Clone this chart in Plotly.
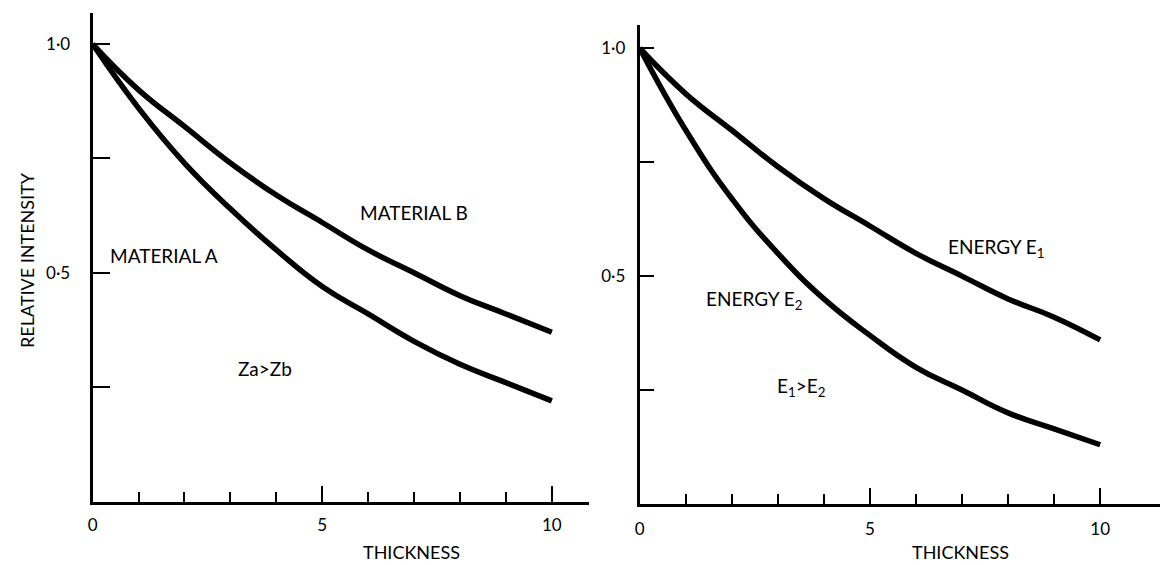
import plotly.graph_objects as go

# ---- data ----
thickness = [0, 1, 2, 3, 4, 5, 6, 7, 8, 9, 10]
material_a = [1.00, 0.86, 0.74, 0.64, 0.55, 0.47, 0.41, 0.35, 0.30, 0.26, 0.22]
material_b = [1.00, 0.90, 0.82, 0.74, 0.67, 0.61, 0.55, 0.50, 0.45, 0.41, 0.37]
energy_e1 = [1.00, 0.90, 0.82, 0.74, 0.67, 0.61, 0.55, 0.50, 0.45, 0.41, 0.36]
energy_e2 = [1.00, 0.82, 0.67, 0.55, 0.45, 0.37, 0.30, 0.25, 0.20, 0.165, 0.13]

x_tick_vals = [0, 5, 10]
x_tick_text = ["0", "5", "10"]
x_minor_vals = [1, 2, 3, 4, 6, 7, 8, 9]
y_tick_vals = [0.5, 1.0]
y_tick_text = ["0·5", "1·0"]
y_minor_vals = [0.25, 0.75]

FONT = "Lato"
W, H = 1162, 565

fig = go.Figure()
line = dict(color="black", width=5.5, shape="spline", smoothing=1.3)
fig.add_trace(go.Scatter(x=thickness, y=material_a, mode="lines", line=line, xaxis="x", yaxis="y"))
fig.add_trace(go.Scatter(x=thickness, y=material_b, mode="lines", line=line, xaxis="x", yaxis="y"))
fig.add_trace(go.Scatter(x=thickness, y=energy_e1, mode="lines", line=line, xaxis="x2", yaxis="y2"))
fig.add_trace(go.Scatter(x=thickness, y=energy_e2, mode="lines", line=line, xaxis="x2", yaxis="y2"))

def xaxis(domain, rng, anchor, standoff):
    return dict(domain=domain, range=rng, anchor=anchor, showline=True, linecolor="black",
                linewidth=3, showgrid=False, zeroline=False, ticks="inside", ticklen=16,
                tickwidth=2, tickcolor="black", tickmode="array", tickvals=x_tick_vals,
                ticktext=x_tick_text, ticklabelstandoff=standoff,
                tickfont=dict(family=FONT, size=17, color="black"),
                minor=dict(tickmode="array", tickvals=x_minor_vals, ticks="inside",
                           ticklen=10, tickwidth=2, tickcolor="black", showgrid=False),
                fixedrange=True)

def yaxis(domain, rng, anchor, standoff, tlen):
    return dict(domain=domain, range=rng, anchor=anchor, showline=True, linecolor="black",
                linewidth=3, showgrid=False, zeroline=False, ticks="inside", ticklen=tlen,
                tickwidth=2, tickcolor="black", tickmode="array", tickvals=y_tick_vals,
                ticktext=y_tick_text, ticklabelstandoff=standoff,
                tickfont=dict(family=FONT, size=17, color="black"),
                minor=dict(tickmode="array", tickvals=y_minor_vals, ticks="inside",
                           ticklen=tlen, tickwidth=2, tickcolor="black", showgrid=False),
                fixedrange=True)

fig.update_layout(
    width=W, height=H, margin=dict(l=0, r=0, t=0, b=0),
    paper_bgcolor="white", plot_bgcolor="white", showlegend=False,
    xaxis=xaxis([88 / W, 587 / W], [0, 10.82], "y", 6),
    yaxis=yaxis([63.5 / H, 552 / H], [0, 1.068], "x", 16, 17),
    xaxis2=xaxis([637.5 / W, 1160 / W], [0, 11.3], "y2", 8),
    yaxis2=yaxis([61 / H, 540 / H], [0, 1.051], "x2", 8, 14),
)

tf = dict(family=FONT, size=19, color="black")
notes = [
    ("x", "y", 7.0, 0.631, "MATERIAL B"),
    ("x", "y", 1.56, 0.537, "MATERIAL A"),
    ("x", "y", 3.75, 0.29, "Za&gt;Zb"),
    ("x2", "y2", 7.73, 0.562, "ENERGY E<sub>1</sub>"),
    ("x2", "y2", 2.48, 0.448, "ENERGY E<sub>2</sub>"),
    ("x2", "y2", 3.51, 0.257, "E<sub>1</sub>&gt;E<sub>2</sub>"),
]
for xr, yr, x, y, t in notes:
    fig.add_annotation(xref=xr, yref=yr, x=x, y=y, text=t, showarrow=False, font=tf,
                       xanchor="center", yanchor="middle")

af = dict(family=FONT, size=18, color="black")
fig.add_annotation(xref="paper", yref="paper", x=408 / W, y=(H - 552) / H, text="THICKNESS",
                   showarrow=False, font=af, xanchor="center", yanchor="middle")
fig.add_annotation(xref="paper", yref="paper", x=960 / W, y=(H - 552) / H, text="THICKNESS",
                   showarrow=False, font=af, xanchor="center", yanchor="middle")
fig.add_annotation(xref="paper", yref="paper", x=22 / W, y=(H - 260) / H, text="RELATIVE INTENSITY",
                   textangle=-90, showarrow=False, font=af, xanchor="center", yanchor="middle")

fig.write_html("out.html")
